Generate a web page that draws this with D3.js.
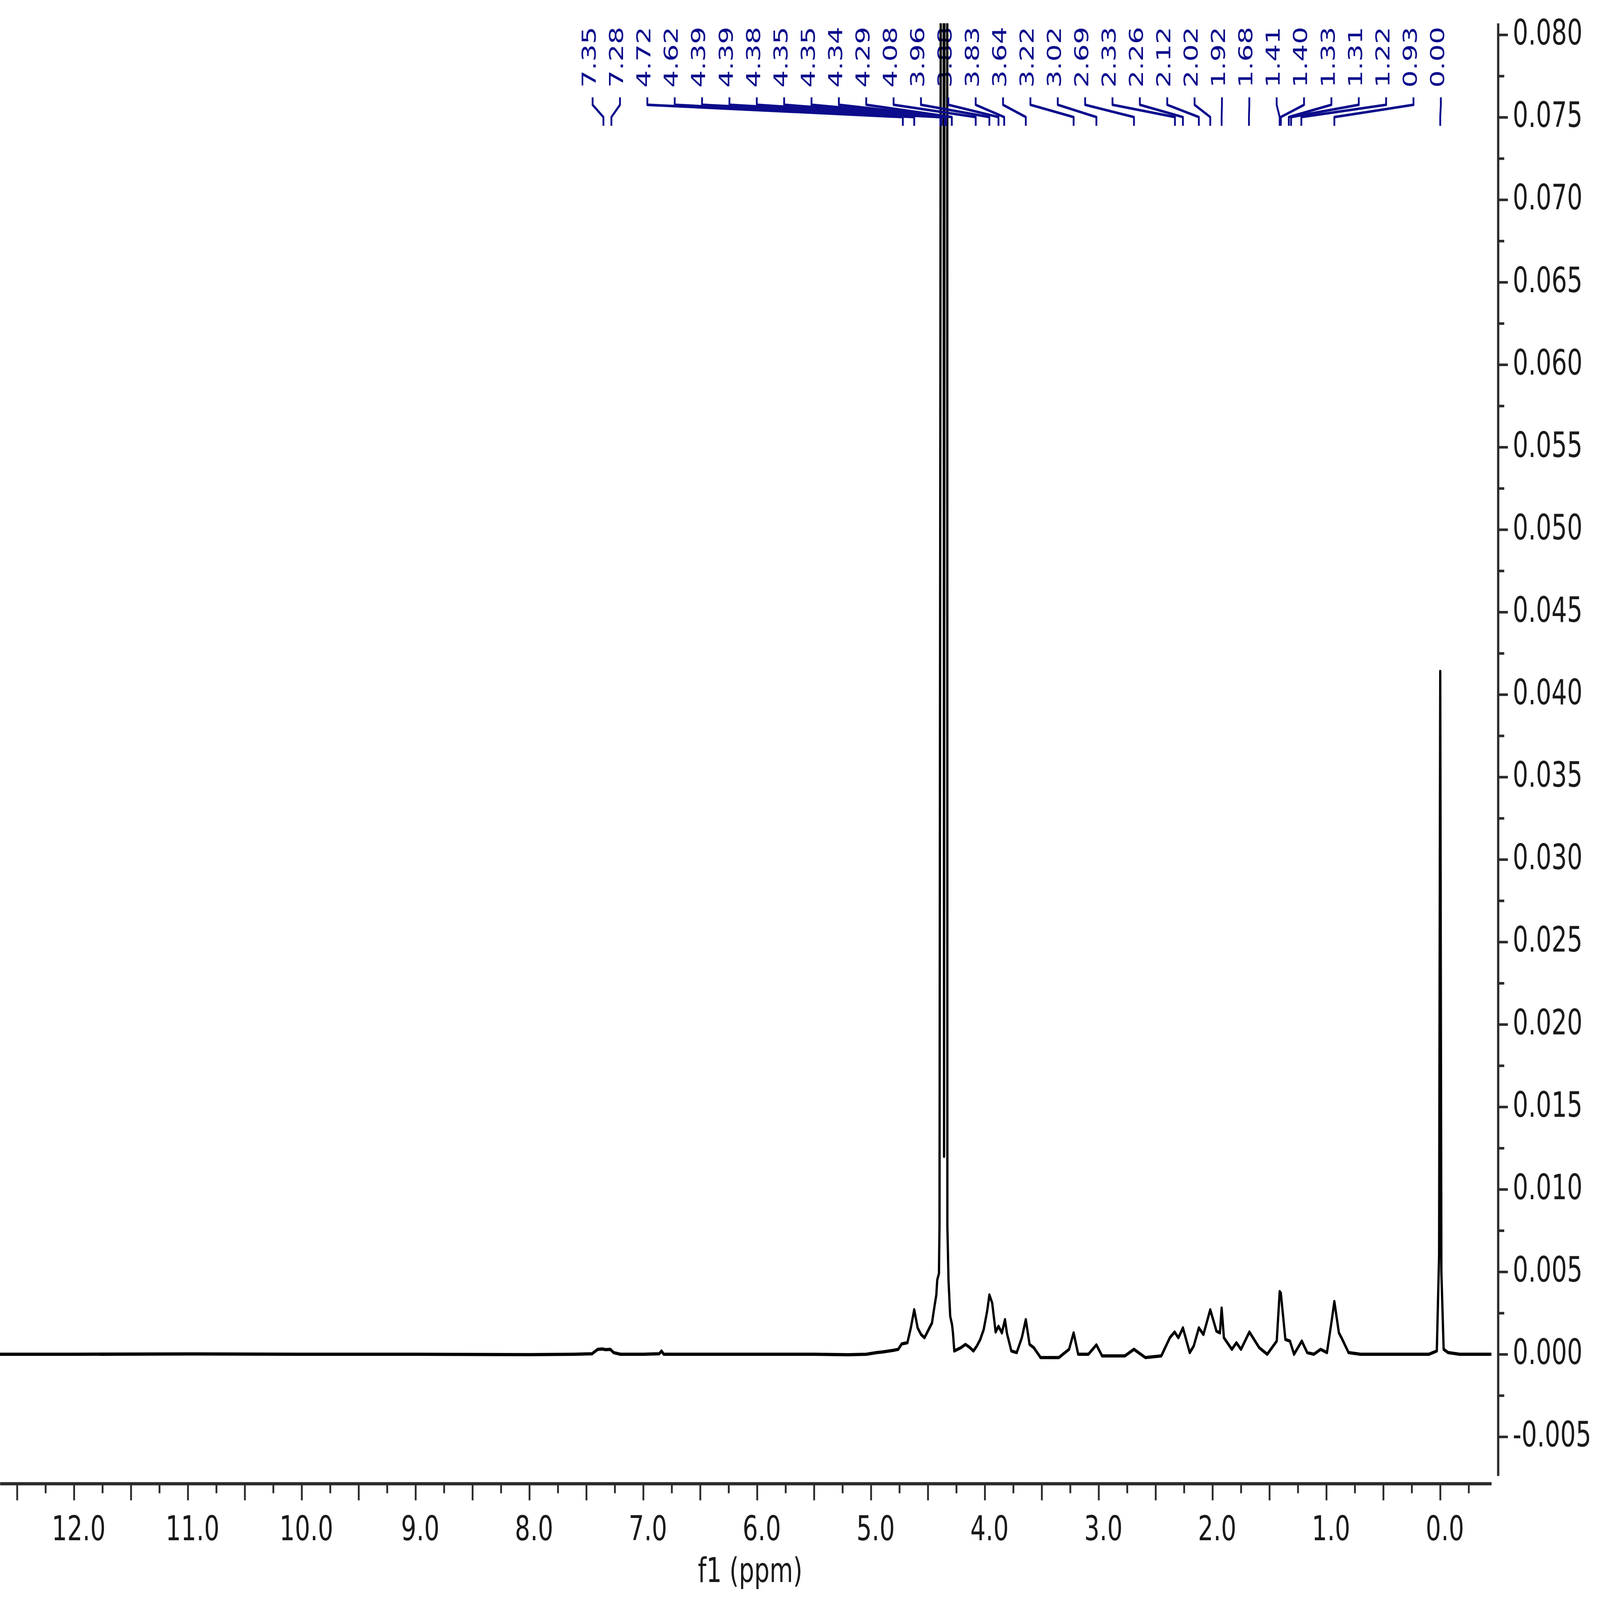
<!DOCTYPE html>
<html>
<head>
<meta charset="utf-8">
<script src="https://cdn.jsdelivr.net/npm/d3@7"></script>
<style>
  html, body { margin: 0; width: 100%; height: 100%; overflow: hidden; background: #fff; }
  #chart { width: 100%; height: 100%; }
  svg { display: block; }
  text { font-family: "DejaVu Sans", Verdana, sans-serif; }
</style>
</head>
<body>
<div id="chart"></div>
<script>
var width = 7017, height = 4961;

// spectrum (ppm, intensity)
var specPpm = [12.65, 12.0, 11.0, 10.0, 9.0, 8.0, 7.60, 7.45, 7.40, 7.36, 7.33, 7.29, 7.26, 7.20, 7.00,
  6.86, 6.84, 6.82, 6.50, 6.00, 5.50, 5.20, 5.04, 4.95, 4.90, 4.81, 4.76, 4.73, 4.68, 4.65, 4.62, 4.59,
  4.56, 4.53, 4.49, 4.464, 4.449, 4.426, 4.418, 4.403, 4.398, 4.386, 4.372, 4.358, 4.345,
  4.33, 4.329, 4.319, 4.304, 4.288, 4.28, 4.268, 4.24, 4.21, 4.17, 4.13, 4.10, 4.07, 4.04, 4.01,
  3.98, 3.96, 3.935, 3.905, 3.88, 3.85, 3.823, 3.805, 3.767, 3.72, 3.675, 3.64, 3.607, 3.57, 3.51, 3.35,
  3.26, 3.22, 3.18, 3.09, 3.02, 2.97, 2.84, 2.77, 2.69, 2.59, 2.45, 2.375, 2.333, 2.30, 2.26, 2.20,
  2.165, 2.12, 2.08, 2.02, 1.965, 1.935, 1.92, 1.90, 1.83, 1.79, 1.75, 1.676, 1.59, 1.52, 1.436, 1.41,
  1.40, 1.36, 1.32, 1.284, 1.216, 1.168, 1.11, 1.05, 0.995, 0.95, 0.93, 0.89, 0.86, 0.805, 0.70, 0.40,
  0.10, 0.03, 0.01, 0.00, -0.01, -0.03, -0.07, -0.17, -0.45];
var specIntensity = [0, 0, 0.00002, 0, 0, -0.00002, 0, 0.00003, 0.0003, 0.00032, 0.00028, 0.0003, 0.0001, 0, 0,
  0.00003, 0.0002, 0, 0, 0, 0, -0.00003, 0, 0.0001, 0.00014, 0.00023, 0.0003, 0.00063, 0.0007, 0.0016, 0.0027, 0.0016,
  0.0012, 0.001, 0.00155, 0.0019, 0.0026, 0.0036, 0.0045, 0.0049, 0.0078, 0.09, 0.3, 0.012, 0.3,
  0.09, 0.0078, 0.0045, 0.0023, 0.0018, 0.0013, 0.0002, 0.0003, 0.0004, 0.0006, 0.0004, 0.0002, 0.0005, 0.0009, 0.0015,
  0.0026, 0.0036, 0.0031, 0.00135, 0.0017, 0.0013, 0.0021, 0.00125, 0.0002, 0.0001, 0.001, 0.0021, 0.0006, 0.0004, -0.0002, -0.0002,
  0.0003, 0.0013, 0, 0, 0.00057, -0.0001, -0.0001, -0.0001, 0.0003, -0.0002, -0.0001, 0.001, 0.00135, 0.001, 0.0016, 0.0001,
  0.0005, 0.0016, 0.0012, 0.0027, 0.0014, 0.0013, 0.0028, 0.001, 0.0003, 0.0007, 0.0003, 0.00135, 0.0004, 0, 0.0008, 0.0038,
  0.0037, 0.0009, 0.0008, 0, 0.0008, 0.0001, 0, 0.0003, 0.0001, 0.0022, 0.0032, 0.0013, 0.0009, 0.0001, 0, 0,
  0, 0.0002, 0.006, 0.0414, 0.005, 0.0003, 0.0001, 0, 0];

// peak picking labels
var peakLabels = ["7.35", "7.28", "4.72", "4.62", "4.39", "4.39", "4.38", "4.35", "4.35", "4.34", "4.29",
  "4.08", "3.96", "3.88", "3.83", "3.64", "3.22", "3.02", "2.69", "2.33", "2.26", "2.12", "2.02", "1.92",
  "1.68", "1.41", "1.40", "1.33", "1.31", "1.22", "0.93", "0.00"];

// axis ticks
var xMajorTicks = [12.5, 12.0, 11.5, 11.0, 10.5, 10.0, 9.5, 9.0, 8.5, 8.0, 7.5, 7.0, 6.5, 6.0, 5.5, 5.0,
  4.5, 4.0, 3.5, 3.0, 2.5, 2.0, 1.5, 1.0, 0.5, 0.0];
var xMinorTicks = [12.25, 11.75, 11.25, 10.75, 10.25, 9.75, 9.25, 8.75, 8.25, 7.75, 7.25, 6.75, 6.25, 5.75,
  5.25, 4.75, 4.25, 3.75, 3.25, 2.75, 2.25, 1.75, 1.25, 0.75, 0.25, -0.25];
var yMajorTicks = [-0.005, 0.000, 0.005, 0.010, 0.015, 0.020, 0.025, 0.030, 0.035, 0.040, 0.045, 0.050,
  0.055, 0.060, 0.065, 0.070, 0.075, 0.080];
var yMinorTicks = [-0.0025, 0.0025, 0.0075, 0.0125, 0.0175, 0.0225, 0.0275, 0.0325, 0.0375, 0.0425, 0.0475,
  0.0525, 0.0575, 0.0625, 0.0675, 0.0725, 0.0775];

var axisColor = '#2b2b2b';
var labelColor = '#0c0c8c';

// the window may be smaller than asked, so fill whatever it is
var svg = d3.select("#chart")
  .append("svg")
  .attr("viewBox", `0 0 ${width} ${height}`)
  .attr("preserveAspectRatio", "none")
  .attr("width", "100%")
  .attr("height", "100%")
  .style('background', '#fff');

var xScale = d3.scaleLinear()
  .domain([12.65, -0.45])
  .range([0, 6541]);

var yScale = d3.scaleLinear()
  .domain([-0.00737, 0.0807])
  .range([4576, 72]);

// evenly spread label slots
var slot = d3.scalePoint()
  .domain(d3.range(peakLabels.length))
  .range([2599, 6319]);

// Render peak labels
svg.append("g")
  .attr('class', 'peak-labels')
  .selectAll("text")
  .data(peakLabels)
  .enter()
  .append("text")
  .attr("transform", (d, i) => `translate(${slot(i) + 14},272) rotate(-90)`)
  .style('font-size', '85px')
  .style('fill', labelColor)
  .text(d => d);

// Render spectrum
svg.append("clipPath")
  .attr("id", "plot-clip")
  .append("rect")
  .attr("x", 0)
  .attr("y", 72)
  .attr("width", 6541)
  .attr("height", 4600);

var spectrum = d3.line()
  .x(d => xScale(d[0]))
  .y(d => yScale(d[1]));

svg.append("path")
  .datum(d3.zip(specPpm, specIntensity))
  .attr("class", "spectrum")
  .attr("clip-path", "url(#plot-clip)")
  .attr("d", spectrum)
  .style('fill', 'none')
  .style('stroke', '#000')
  .style('stroke-width', 10)
  .style('stroke-linejoin', 'round');

// Render label connectors
svg.append("g")
  .attr('class', 'connectors')
  .selectAll("path")
  .data(peakLabels)
  .enter()
  .append("path")
  .attr("d", (d, i) => {
    var lx = slot(i), px = xScale(+d);
    return d3.line()([[lx, 302], [lx, 325], [px, 363], [px, 390]]);
  })
  .style('fill', 'none')
  .style('stroke', labelColor)
  .style('stroke-width', 8)
  .style('stroke-linejoin', 'round');

// X axis
var xAxis = d3.axisBottom(xScale)
  .tickValues(xMajorTicks)
  .tickSize(52)
  .tickSizeOuter(0)
  .tickPadding(48)
  .tickFormat(d => Number.isInteger(d) ? d.toFixed(1) : "");

var gx = svg.append("g")
  .attr("transform", "translate(0,4600)")
  .attr('class', 'x-axis')
  .style('color', axisColor)
  .call(xAxis);

gx.select(".domain").attr("stroke-width", 10);
gx.selectAll(".tick line").attr("stroke-width", 8);
gx.selectAll(".tick text")
  .attr("x", 20)
  .style('font-size', '106px')
  .style('fill', '#1a1a1a');

var xMinor = d3.axisBottom(xScale)
  .tickValues(xMinorTicks)
  .tickSize(30)
  .tickFormat("");

svg.append("g")
  .attr("transform", "translate(0,4600)")
  .attr('class', 'x-axis-minor')
  .style('color', axisColor)
  .call(xMinor)
  .call(g => g.select(".domain").remove())
  .selectAll(".tick line").attr("stroke-width", 8);

svg.append("text")
  .attr("x", 3290)
  .attr("y", 4905)
  .style("text-anchor", "middle")
  .style('font-size', '106px')
  .style('fill', '#1a1a1a')
  .text('f1 (ppm)');

// Y axis
var yAxis = d3.axisRight(yScale)
  .tickValues(yMajorTicks)
  .tickSize(43)
  .tickSizeOuter(0)
  .tickFormat(d => d3.format(".3f")(d).replace("\u2212", "-"));

var gy = svg.append("g")
  .attr("transform", "translate(6570,0)")
  .attr('class', 'y-axis')
  .style('color', axisColor)
  .call(yAxis);

gy.select(".domain").attr("stroke-width", 10);
gy.selectAll(".tick line").attr("stroke-width", 8);
gy.selectAll(".tick text")
  .attr("x", 64)
  .attr("dy", "0.28em")
  .style('font-size', '107px')
  .style('fill', '#1a1a1a');

var yMinor = d3.axisRight(yScale)
  .tickValues(yMinorTicks)
  .tickSize(27)
  .tickFormat("");

svg.append("g")
  .attr("transform", "translate(6570,0)")
  .attr('class', 'y-axis-minor')
  .style('color', axisColor)
  .call(yMinor)
  .call(g => g.select(".domain").remove())
  .selectAll(".tick line").attr("stroke-width", 8);
</script>
</body>
</html>
